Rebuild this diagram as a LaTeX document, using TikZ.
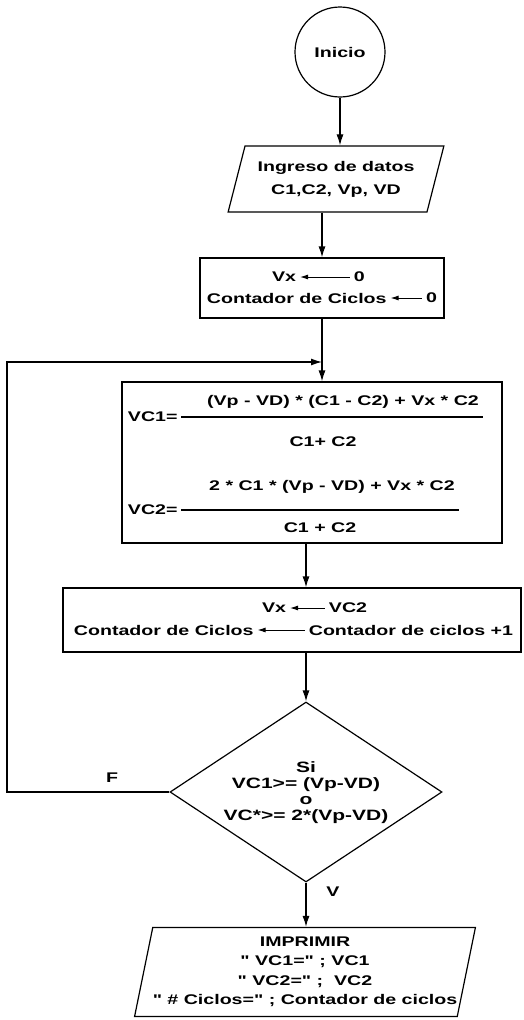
\documentclass[tikz,border=0pt]{standalone}
\usepackage{fontspec}
\setmainfont{Liberation Sans}[FakeStretch=1.4, Ligatures=TeXOff]
\usetikzlibrary{arrows.meta, positioning, calc, shapes.geometric}

\begin{document}
\begin{tikzpicture}[x=1pt, y=-1pt, font=\bfseries\fontsize{14}{15}\selectfont,
      line width=1.2pt, >={Latex[length=11pt,width=7pt]},
      box/.style={draw, rectangle, inner sep=0pt},
      io/.style={draw, trapezium, trapezium stretches=true, inner sep=0pt, align=center},
      asig/.style={<-, line width=1pt, >={Latex[length=8pt,width=5pt]}}]
    \useasboundingbox (0,0) rectangle (523,1020);
    \node[draw, circle, minimum size=90pt, inner sep=0pt] (ini) at (340,52) {Inicio};
    \node[io, trapezium left angle=68, trapezium right angle=112,
          minimum width=216pt, minimum height=66pt, font=\bfseries\fontsize{14}{23}\selectfont]
          (datos) at (336,179) {Ingreso de datos\\C1,C2, Vp, VD};
    \draw[->] (ini) -- (ini |- datos.north);
    % valores iniciales
    \node[box, minimum width=244pt, minimum height=60pt] (init) at (322,288) {};
    \node[anchor=east] (vx1) at (300,277) {Vx};
    \node[anchor=west] (c01) at (350,277) {0};
    \node[anchor=west] (cc1) at (203,298) {Contador de Ciclos};
    \node[anchor=east] (c02) at (441,298) {0};
    \draw[asig] (vx1) -- (c01);
    \draw[asig] (cc1) -- (c02);
    \draw[->] (init.north |- datos.south) -- (init.north);
    % calculo
    \node[box, minimum width=380pt, minimum height=161pt] (calc) at (312,462.5) {};
    \node[anchor=west] (vc1) at (124,417) {VC1=};
    \node (num1) at (343,402) {(Vp - VD) * (C1 - C2) + Vx * C2};
    \node (den1) at (323,442) {C1+ C2};
    \node[anchor=west] (vc2) at (124,510) {VC2=};
    \node (num2) at (332,487) {2 * C1 * (Vp - VD) + Vx * C2};
    \node (den2) at (320,528) {C1 + C2};
    \draw (vc1.east) -- (vc1.east -| num1.east);
    \draw (vc2.east) -- (vc2.east -| num2.east);
    \coordinate (junta) at (322,362);
    \draw[->] (init.south) -- (init.south |- calc.north);
    % actualizacion
    \node[box, minimum width=458pt, minimum height=64pt] (upd) at (292,620) {};
    \node[anchor=east] (vx2) at (290,608) {Vx};
    \node[anchor=west] (vc2b) at (325,608) {VC2};
    \node[anchor=west] (cc2) at (70,630) {Contador de Ciclos};
    \node[anchor=east] (cc3) at (517,630) {Contador de ciclos +1};
    \draw[asig] (vx2) -- (vc2b);
    \draw[asig] (cc2) -- (cc3);
    % condicion
    \node[draw, diamond, minimum width=272pt, minimum height=180pt, inner sep=0pt] (cond) at (306,792) {};
    \node[align=center, font=\bfseries\fontsize{15}{16}\selectfont] (ctxt) at (306,793)
          {Si\\VC1>= (Vp-VD)\\o\\VC*>= 2*(Vp-VD)};
    \draw[->] (calc.south -| cond.north) -- (upd.north -| cond.north);
    \draw[->] (upd.south -| cond.north) -- (cond.north);
    % salida
    \node[io, trapezium left angle=75.5, trapezium right angle=104.5,
          minimum width=325pt, minimum height=89pt, font=\bfseries\fontsize{14}{19.5}\selectfont]
          (out) at (305,972) {IMPRIMIR\\" VC1=" ; VC1\\" VC2=" ;\ \ VC2\\" \# Ciclos=" ; Contador de ciclos};
    \draw[->] (cond.south) -- (out.north -| cond.south);
    \coordinate (esq) at (7,0);
    \draw[->] (cond.west) -- (cond.west -| esq) |- (junta);
    \node (f) at (112,778) {F};
    \node (v) at (333,892) {V};
  \end{tikzpicture}
\end{document}
